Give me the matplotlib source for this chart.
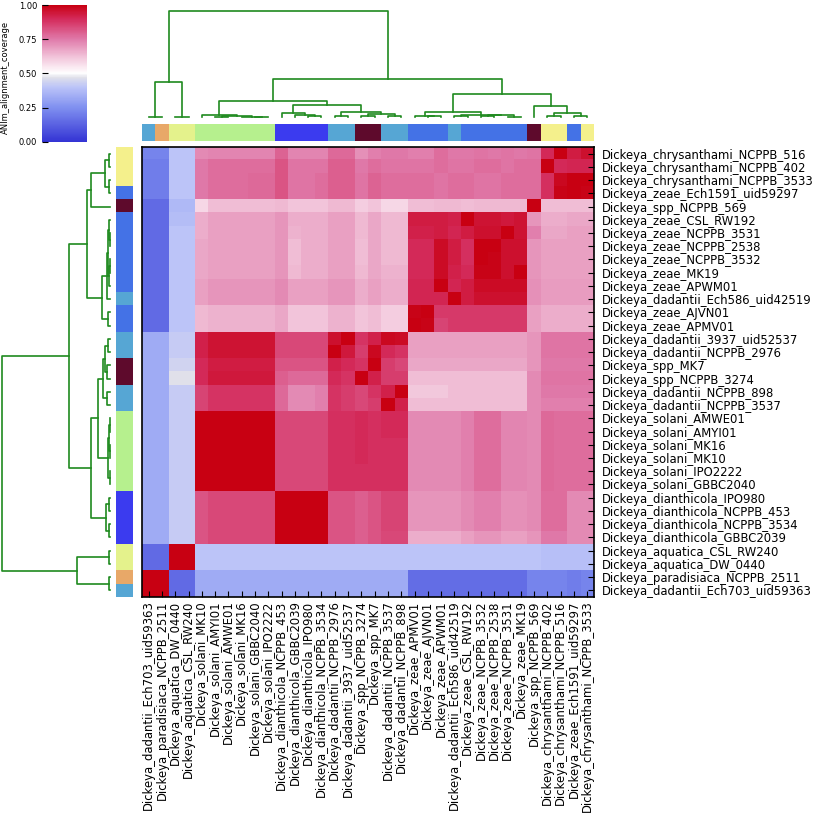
import numpy as np
import matplotlib
matplotlib.use("Agg")
import matplotlib.pyplot as plt
from matplotlib.colors import LinearSegmentedColormap, to_rgb
from matplotlib.cm import ScalarMappable
from matplotlib.colors import Normalize

# heatmap rows, top to bottom
row_labels = [
    "Dickeya_chrysanthami_NCPPB_516", "Dickeya_chrysanthami_NCPPB_402",
    "Dickeya_chrysanthami_NCPPB_3533", "Dickeya_zeae_Ech1591_uid59297",
    "Dickeya_spp_NCPPB_569", "Dickeya_zeae_CSL_RW192", "Dickeya_zeae_NCPPB_3531",
    "Dickeya_zeae_NCPPB_2538", "Dickeya_zeae_NCPPB_3532", "Dickeya_zeae_MK19",
    "Dickeya_zeae_APWM01", "Dickeya_dadantii_Ech586_uid42519", "Dickeya_zeae_AJVN01",
    "Dickeya_zeae_APMV01", "Dickeya_dadantii_3937_uid52537", "Dickeya_dadantii_NCPPB_2976",
    "Dickeya_spp_MK7", "Dickeya_spp_NCPPB_3274", "Dickeya_dadantii_NCPPB_898",
    "Dickeya_dadantii_NCPPB_3537", "Dickeya_solani_AMWE01", "Dickeya_solani_AMYI01",
    "Dickeya_solani_MK16", "Dickeya_solani_MK10", "Dickeya_solani_IPO2222",
    "Dickeya_solani_GBBC2040", "Dickeya_dianthicola_IPO980", "Dickeya_dianthicola_NCPPB_453",
    "Dickeya_dianthicola_NCPPB_3534", "Dickeya_dianthicola_GBBC2039",
    "Dickeya_aquatica_CSL_RW240", "Dickeya_aquatica_DW_0440",
    "Dickeya_paradisiaca_NCPPB_2511", "Dickeya_dadantii_Ech703_uid59363",
]

# heatmap columns, left to right
col_labels = [
    "Dickeya_dadantii_Ech703_uid59363", "Dickeya_paradisiaca_NCPPB_2511",
    "Dickeya_aquatica_DW_0440", "Dickeya_aquatica_CSL_RW240", "Dickeya_solani_MK10",
    "Dickeya_solani_AMYI01", "Dickeya_solani_AMWE01", "Dickeya_solani_MK16",
    "Dickeya_solani_GBBC2040", "Dickeya_solani_IPO2222", "Dickeya_dianthicola_NCPPB_453",
    "Dickeya_dianthicola_GBBC2039", "Dickeya_dianthicola_IPO980",
    "Dickeya_dianthicola_NCPPB_3534", "Dickeya_dadantii_NCPPB_2976",
    "Dickeya_dadantii_3937_uid52537", "Dickeya_spp_NCPPB_3274", "Dickeya_spp_MK7",
    "Dickeya_dadantii_NCPPB_3537", "Dickeya_dadantii_NCPPB_898", "Dickeya_zeae_APMV01",
    "Dickeya_zeae_AJVN01", "Dickeya_zeae_APWM01", "Dickeya_dadantii_Ech586_uid42519",
    "Dickeya_zeae_CSL_RW192", "Dickeya_zeae_NCPPB_3532", "Dickeya_zeae_NCPPB_2538",
    "Dickeya_zeae_NCPPB_3531", "Dickeya_zeae_MK19", "Dickeya_spp_NCPPB_569",
    "Dickeya_chrysanthami_NCPPB_402", "Dickeya_chrysanthami_NCPPB_516",
    "Dickeya_zeae_Ech1591_uid59297", "Dickeya_chrysanthami_NCPPB_3533",
]

species_colours = {
    "dadantii": "#56a6d4", "paradisiaca": "#e8a868", "aquatica": "#e4f28c",
    "solani": "#b6f08e", "dianthicola": "#3b3bef", "spp": "#5e0a2c",
    "zeae": "#4472e6", "chrysanthami": "#f4f08c",
}

# alignment coverage, percent (rows x columns as above)
coverage = [
    [22, 22, 40, 40, 72, 73, 73, 73, 73, 73, 79, 73, 73, 73, 78, 78, 71, 74, 75, 75, 74, 74, 77, 75, 75, 76, 75, 76, 75, 76, 90, 100, 93, 96],
    [20, 20, 40, 40, 75, 77, 77, 77, 77, 77, 82, 76, 76, 76, 80, 80, 75, 77, 76, 76, 76, 76, 77, 76, 76, 77, 77, 76, 77, 77, 100, 90, 91, 91],
    [20, 20, 40, 40, 75, 77, 77, 77, 78, 78, 82, 76, 76, 77, 80, 80, 76, 79, 77, 77, 77, 77, 76, 77, 77, 76, 76, 77, 77, 77, 89, 98, 100, 100],
    [20, 20, 40, 40, 75, 77, 77, 77, 78, 78, 82, 76, 76, 77, 80, 80, 76, 79, 77, 77, 77, 77, 76, 77, 77, 76, 76, 77, 77, 77, 89, 99, 100, 99],
    [15, 15, 37, 37, 58, 63, 63, 63, 63, 63, 64, 62, 62, 62, 64, 64, 60, 62, 58, 58, 63, 63, 64, 64, 63, 64, 64, 64, 64, 100, 63, 63, 63, 63],
    [15, 15, 38, 38, 66, 68, 68, 68, 68, 68, 70, 66, 66, 66, 68, 68, 64, 67, 64, 64, 93, 93, 93, 92, 100, 95, 95, 94, 95, 70, 66, 66, 67, 67],
    [15, 15, 40, 40, 66, 68, 68, 68, 68, 68, 70, 65, 66, 66, 68, 68, 64, 67, 64, 64, 92, 92, 93, 91, 93, 96, 96, 100, 95, 74, 67, 67, 68, 68],
    [15, 15, 40, 40, 67, 68, 68, 68, 68, 68, 70, 63, 66, 66, 68, 68, 63, 67, 64, 64, 90, 90, 97, 93, 89, 100, 100, 96, 96, 70, 68, 68, 68, 68],
    [15, 15, 40, 40, 67, 68, 68, 68, 68, 68, 70, 63, 66, 66, 68, 68, 63, 67, 64, 64, 90, 90, 97, 93, 89, 100, 99, 96, 96, 70, 68, 68, 68, 68],
    [15, 15, 40, 40, 67, 68, 68, 68, 68, 68, 70, 64, 66, 66, 68, 68, 64, 67, 65, 65, 90, 90, 97, 92, 90, 99, 99, 96, 100, 70, 68, 68, 68, 68],
    [15, 15, 40, 40, 68, 70, 70, 70, 70, 70, 72, 68, 68, 68, 70, 70, 66, 68, 66, 66, 91, 91, 100, 91, 93, 97, 97, 97, 97, 71, 69, 69, 69, 69],
    [15, 15, 40, 40, 68, 70, 70, 70, 70, 70, 72, 68, 68, 68, 70, 70, 66, 68, 66, 66, 91, 91, 91, 100, 93, 96, 96, 96, 96, 71, 69, 69, 69, 69],
    [15, 15, 40, 40, 64, 65, 65, 65, 65, 65, 67, 62, 62, 62, 65, 65, 62, 63, 60, 60, 99, 100, 87, 87, 87, 87, 87, 87, 87, 68, 66, 66, 66, 66],
    [15, 15, 40, 40, 64, 65, 65, 65, 65, 65, 67, 62, 62, 62, 65, 65, 62, 63, 60, 60, 100, 99, 85, 87, 87, 87, 87, 87, 87, 68, 66, 66, 66, 66],
    [33, 33, 42, 42, 92, 95, 95, 95, 95, 95, 84, 84, 84, 84, 96, 100, 88, 92, 98, 97, 68, 68, 68, 68, 68, 68, 68, 68, 68, 70, 76, 76, 76, 76],
    [33, 33, 42, 42, 92, 95, 95, 95, 95, 95, 84, 84, 84, 84, 100, 94, 86, 98, 90, 88, 68, 68, 68, 68, 68, 68, 68, 68, 68, 70, 76, 76, 76, 76],
    [33, 33, 44, 44, 90, 93, 93, 93, 93, 93, 82, 82, 82, 82, 92, 90, 88, 100, 86, 84, 67, 67, 67, 67, 67, 67, 67, 67, 67, 70, 75, 75, 75, 75],
    [33, 33, 47, 47, 90, 94, 94, 94, 94, 94, 80, 78, 78, 78, 90, 88, 100, 92, 86, 86, 63, 63, 63, 63, 63, 63, 63, 63, 63, 72, 76, 76, 76, 76],
    [33, 33, 42, 42, 85, 88, 88, 88, 88, 88, 78, 72, 72, 74, 88, 86, 84, 88, 92, 100, 61, 61, 61, 63, 63, 63, 63, 63, 63, 72, 75, 75, 75, 75],
    [33, 33, 42, 42, 85, 88, 88, 88, 88, 88, 78, 72, 72, 74, 88, 86, 84, 86, 100, 92, 63, 63, 63, 63, 63, 63, 63, 63, 63, 72, 74, 74, 74, 74],
    [33, 33, 42, 42, 100, 100, 100, 100, 100, 100, 84, 84, 84, 84, 89, 89, 90, 89, 90, 90, 72, 72, 72, 72, 74, 77, 77, 73, 73, 72, 78, 77, 77, 77],
    [33, 33, 42, 42, 100, 100, 100, 100, 100, 100, 84, 84, 84, 84, 89, 89, 90, 89, 90, 90, 72, 72, 72, 72, 74, 77, 77, 73, 73, 72, 78, 77, 77, 77],
    [33, 33, 42, 42, 100, 100, 100, 100, 100, 100, 84, 84, 84, 84, 89, 89, 90, 89, 89, 89, 72, 72, 72, 72, 74, 77, 77, 73, 73, 72, 78, 77, 77, 77],
    [33, 33, 42, 42, 100, 100, 100, 100, 100, 100, 84, 84, 84, 84, 89, 89, 90, 89, 89, 89, 72, 72, 72, 72, 74, 77, 77, 73, 73, 72, 78, 77, 77, 77],
    [33, 33, 42, 42, 100, 100, 100, 100, 100, 100, 84, 84, 84, 84, 89, 89, 89, 89, 89, 89, 72, 72, 72, 72, 74, 77, 77, 73, 73, 72, 78, 77, 77, 77],
    [33, 33, 42, 42, 100, 100, 100, 100, 100, 100, 84, 84, 84, 84, 89, 89, 89, 89, 89, 89, 72, 72, 72, 72, 74, 77, 77, 73, 73, 72, 78, 77, 77, 77],
    [33, 33, 42, 42, 82, 84, 84, 84, 84, 84, 100, 100, 100, 100, 82, 82, 80, 82, 85, 85, 70, 70, 70, 70, 72, 74, 74, 71, 71, 72, 77, 77, 72, 72],
    [33, 33, 42, 42, 82, 84, 84, 84, 84, 84, 100, 100, 100, 100, 82, 82, 80, 82, 85, 85, 70, 70, 70, 70, 72, 74, 74, 71, 71, 72, 77, 77, 72, 72],
    [33, 33, 42, 42, 82, 84, 84, 84, 84, 84, 100, 100, 100, 100, 82, 82, 80, 82, 85, 85, 70, 70, 70, 70, 72, 74, 74, 71, 71, 72, 77, 77, 72, 72],
    [33, 33, 42, 42, 82, 84, 84, 84, 84, 84, 100, 100, 100, 100, 82, 82, 80, 82, 84, 84, 66, 66, 66, 66, 68, 70, 70, 68, 68, 70, 75, 75, 72, 72],
    [15, 15, 100, 100, 40, 40, 40, 40, 40, 40, 40, 40, 40, 40, 40, 40, 40, 40, 40, 40, 40, 40, 40, 40, 40, 40, 40, 40, 40, 40, 39, 39, 39, 39],
    [15, 15, 100, 100, 40, 40, 40, 40, 40, 40, 40, 40, 40, 40, 40, 40, 40, 40, 40, 40, 40, 40, 40, 40, 40, 40, 40, 40, 40, 40, 39, 39, 39, 39],
    [100, 100, 15, 15, 33, 33, 33, 33, 33, 33, 33, 33, 33, 33, 33, 33, 33, 33, 33, 33, 16, 16, 16, 16, 16, 16, 16, 16, 16, 22, 22, 22, 20, 22],
    [100, 100, 15, 15, 33, 33, 33, 33, 33, 33, 33, 33, 33, 33, 33, 33, 33, 33, 33, 33, 16, 16, 16, 16, 16, 16, 16, 16, 16, 22, 22, 22, 20, 22],
]

# dendrograms: (merge height, left, right), leaves are positions in the order above
col_tree = (1.0,
    (0.326, (0.003, 0, 1), (0.003, 2, 3)),
    (0.357,
        (0.153,
            (0.016, 4, (0.006, (0.003, 5, 6), (0.004, 7, (0.002, 8, 9)))),
            (0.11,
                (0.038, 10, (0.016, 11, (0.005, 12, 13))),
                (0.044, (0.01, 14, 15), (0.03, (0.012, 16, 17), (0.008, 18, 19))))),
        (0.213,
            (0.05, (0.012, 20, (0.005, 21, 22)),
                   (0.02, (0.008, 23, 24), (0.015, (0.006, 25, 26), (0.004, 27, 28)))),
            (0.103, 29, (0.04, (0.012, 30, 31), (0.01, 32, 33))))))

row_tree = (1.0,
    (0.381,
        (0.218,
            (0.179, (0.051, (0.005, 0, 1), (0.01, 2, 3)), 4),
            (0.074,
                (0.03, (0.015, (0.008, 5, (0.004, 6, 7)), (0.006, (0.003, 8, 9), 10)), 11),
                (0.016, 12, 13))),
        (0.178,
            (0.116,
                (0.068, (0.046, (0.02, 14, 15), (0.025, 16, 17)), (0.03, 18, 19)),
                (0.016, (0.008, (0.004, 20, 21), (0.004, 22, 23)), (0.003, 24, 25))),
            (0.037, (0.012, 26, 27), (0.01, 28, 29)))),
    (0.304, (0.008, 30, 31), (0.008, 32, 33)))

cmap = LinearSegmentedColormap.from_list("coverage", [
    (0.0, "#3434d4"), (0.25, "#8090f0"), (0.4, "#bcc4f8"), (0.47, "#e0e0ea"),
    (0.5, "#ffffff"), (0.62, "#f2c4da"), (0.75, "#e07aaa"), (0.9, "#d42a5a"),
    (1.0, "#c80012")])
line_col = "#1f8a1f"
W, H = 817, 819


def box(x0, y0, x1, y1):
    return [x0 / W, 1 - y1 / H, (x1 - x0) / W, (y1 - y0) / H]


def dendro_segments(node, segs):
    if isinstance(node, int):
        return float(node), 0.0
    h, a, b = node
    xa, ha = dendro_segments(a, segs)
    xb, hb = dendro_segments(b, segs)
    segs.append(([xa, xa, xb, xb], [ha, h, h, hb]))
    return (xa + xb) / 2, h


def species(name):
    return name.split("_")[1]


data = np.array(coverage) / 100.0
n = len(row_labels)

fig = plt.figure(figsize=(W / 100, H / 100), dpi=100)

ax = fig.add_axes(box(142, 147, 594, 597))
ax.imshow(data, cmap=cmap, vmin=0, vmax=1, aspect="auto", interpolation="nearest")
ax.set_xticks(range(n))
ax.set_xticklabels(col_labels, rotation=90, fontsize=8.4)
ax.set_yticks(range(n))
ax.set_yticklabels(row_labels, fontsize=8.4)
ax.yaxis.tick_right()
ax.tick_params(axis="x", direction="in", length=4, width=0.8, pad=2.5)
ax.tick_params(axis="y", direction="in", length=4, width=0.8, pad=5.5)
for sp in ax.spines.values():
    sp.set_linewidth(1.2)

# column dendrogram
axc = fig.add_axes(box(142, 10.7, 594, 117))
segs = []
dendro_segments(col_tree, segs)
for xs, ys in segs:
    axc.plot(xs, ys, color=line_col, lw=1.2, clip_on=False)
axc.set_xlim(-0.5, n - 0.5)
axc.set_ylim(0, 1)
axc.axis("off")

# row dendrogram
axr = fig.add_axes(box(2.3, 147, 110, 597))
segs = []
dendro_segments(row_tree, segs)
for ys, xs in segs:
    axr.plot(xs, ys, color=line_col, lw=1.2, clip_on=False)
axr.set_xlim(1, 0)
axr.set_ylim(n - 0.5, -0.5)
axr.axis("off")

# species colour strips
axcs = fig.add_axes(box(142, 124, 594, 141))
axcs.imshow([[to_rgb(species_colours[species(c)]) for c in col_labels]],
            aspect="auto", interpolation="nearest")
axcs.axis("off")
axrs = fig.add_axes(box(116, 147, 133, 597))
axrs.imshow([[to_rgb(species_colours[species(r)])] for r in row_labels],
            aspect="auto", interpolation="nearest")
axrs.axis("off")

# colour scale
cax = fig.add_axes(box(42, 5, 87, 141.7))
cb = fig.colorbar(ScalarMappable(norm=Normalize(0, 1), cmap=cmap), cax=cax)
cb.outline.set_visible(False)
cb.set_ticks([0, 0.25, 0.5, 0.75, 1.0])
cb.set_ticklabels(["0.00", "0.25", "0.50", "0.75", "1.00"])
cax.yaxis.set_ticks_position("left")
cax.tick_params(direction="in", length=4, width=0.8, labelsize=6, pad=3.5)
fig.text(5.5 / W, 1 - 77 / H, "ANIm_alignment_coverage", rotation=90,
         fontsize=6, ha="center", va="center")

fig.savefig("out.png", dpi=100)
